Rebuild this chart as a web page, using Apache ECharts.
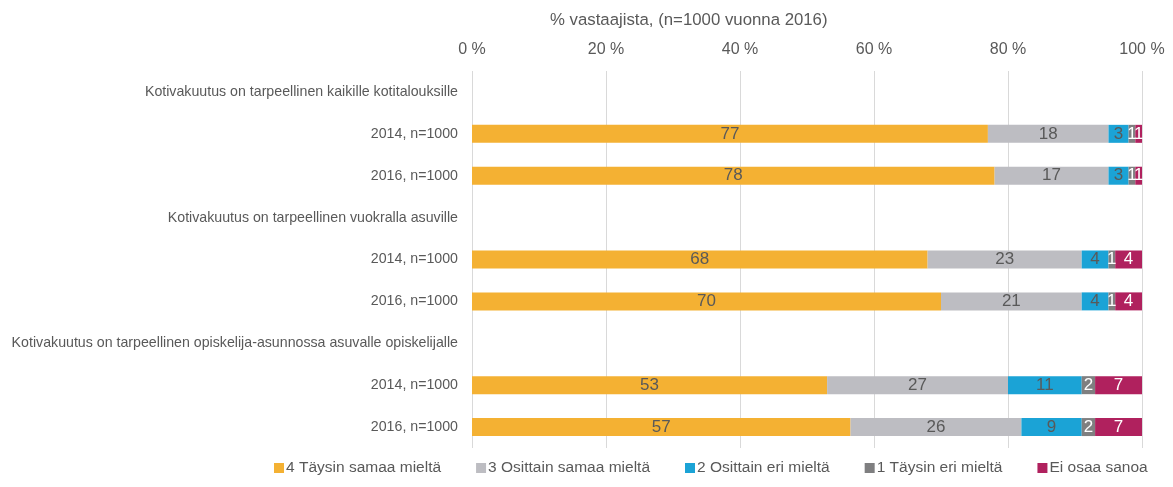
<!DOCTYPE html>
<html>
<head>
<meta charset="utf-8">
<script src="https://cdn.jsdelivr.net/npm/echarts@6/dist/echarts.min.js"></script>
<style>
html,body{margin:0;padding:0;background:#fff;}
#chart{width:1173px;height:487px;}
</style>
</head>
<body>
<div id="chart"></div>
<script>
const categories = [
  "Kotivakuutus on tarpeellinen kaikille kotitalouksille",
  "2014, n=1000",
  "2016, n=1000",
  "Kotivakuutus on tarpeellinen vuokralla asuville",
  "2014, n=1000",
  "2016, n=1000",
  "Kotivakuutus on tarpeellinen opiskelija-asunnossa asuvalle opiskelijalle",
  "2014, n=1000",
  "2016, n=1000"
];
const seriesNames = ["4 Täysin samaa mieltä", "3 Osittain samaa mieltä", "2 Osittain eri mieltä", "1 Täysin eri mieltä", "Ei osaa sanoa"];
const s4 = [null, 77, 78, null, 68, 70, null, 53, 56.5];
const s3 = [null, 18, 17, null, 23, 21, null, 27, 25.5];
const s2 = [null, 3, 3, null, 4, 4, null, 11, 9];
const s1 = [null, 1, 1, null, 1, 1, null, 2, 2];
const s0 = [null, 1, 1, null, 4, 4, null, 7, 7];
const tickLabels = ["0 %", "20 %", "40 %", "60 %", "80 %", "100 %"];
const axisTitle = "% vastaajista, (n=1000 vuonna 2016)";

const colors = ["#F4B133", "#BDBDC2", "#1BA3D6", "#7F7F80", "#B0215E"];
const labelColors = ["#595959", "#595959", "#595959", "#ffffff", "#ffffff"];
const dataSets = [s4, s3, s2, s1, s0];
const FONT = "Liberation Sans, Arial, sans-serif";

const chart = echarts.init(document.getElementById('chart'));
chart.setOption({
  animation: false,
  backgroundColor: '#fff',
  color: colors,
  title: {
    text: axisTitle,
    left: 545, top: 7,
    textStyle: {fontFamily: FONT, fontSize: 16.8, fontWeight: 'normal', color: '#595959'}
  },
  grid: {left: 472, right: 31, top: 71, bottom: 39, containLabel: false},
  legend: {
    bottom: 6, left: 269,
    itemWidth: 10, itemHeight: 10, itemGap: 35,
    icon: 'rect',
    textStyle: {fontFamily: FONT, fontSize: 15.5, color: '#595959', padding: [0,0,0,-3]},
    data: seriesNames
  },
  xAxis: {
    type: 'value', position: 'top', min: 0, max: 100, interval: 20,
    axisLine: {show: false}, axisTick: {show: false},
    splitLine: {lineStyle: {color: '#D9D9D9', width: 1}},
    axisLabel: {
      fontFamily: FONT, fontSize: 16, color: '#595959', margin: 13,
      formatter: v => tickLabels[Math.round(v / 20)]
    }
  },
  yAxis: {
    type: 'category', inverse: true, data: categories,
    axisLine: {show: false}, axisTick: {show: false},
    axisLabel: {fontFamily: FONT, fontSize: 14.2, color: '#595959', margin: 14}
  },
  series: dataSets.map((d, i) => ({
    name: seriesNames[i],
    type: 'bar', stack: 'total', barWidth: 18,
    data: d,
    itemStyle: {color: colors[i]},
    label: {
      show: true, position: 'inside',
      fontFamily: FONT, fontSize: 17, color: labelColors[i],
      formatter: p => (p.value == null ? '' : String(Math.round(p.value)))
    }
  }))
});
</script>
</body>
</html>
